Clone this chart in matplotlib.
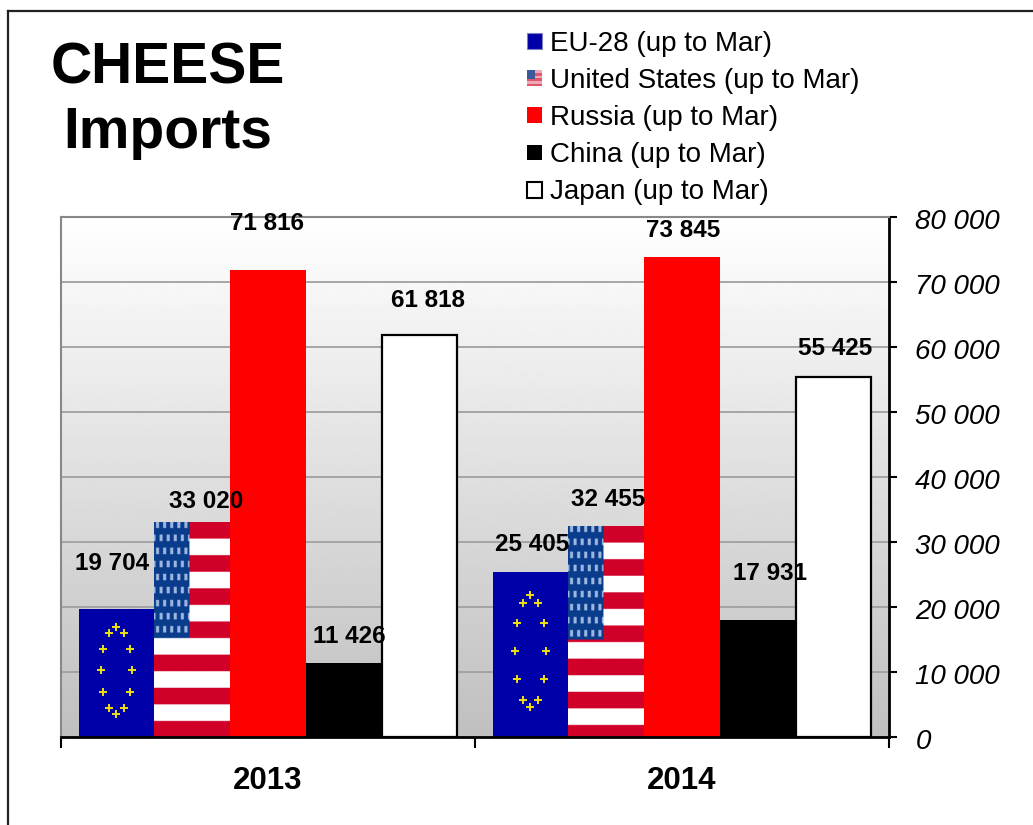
import numpy as np
import matplotlib
matplotlib.use('Agg')
import matplotlib.pyplot as plt
from matplotlib.lines import Line2D
from matplotlib.patches import Patch, Rectangle
from matplotlib.legend_handler import HandlerPatch
from matplotlib.transforms import ScaledTranslation

plt.rcParams['font.family'] = ['Liberation Sans', 'DejaVu Sans']

years = ['2013', '2014']
eu = [19704, 25405]
us = [33020, 32455]
russia = [71816, 73845]
china = [11426, 17931]
japan = [61818, 55425]
series_names = ['EU-28 (up to Mar)', 'United States (up to Mar)', 'Russia (up to Mar)',
                'China (up to Mar)', 'Japan (up to Mar)']
y_ticks = [0, 10000, 20000, 30000, 40000, 50000, 60000, 70000, 80000]

W, H = 1033, 825
BLUE = '#0000a8'
FLAG_RED = '#d00028'
FLAG_BLUE = '#0a3c8c'


def spaced(v):
    return f'{v:,}'.replace(',', ' ')


def us_flag_image(bar_h_px, bar_w_px):
    # stripes keep the same pixel height whatever the bar height is
    rows, cols = int(bar_h_px) * 2, int(bar_w_px) * 2
    img = np.ones((rows, cols, 3))
    red = np.array(matplotlib.colors.to_rgb(FLAG_RED))
    blue = np.array(matplotlib.colors.to_rgb(FLAG_BLUE))
    stripe = 33
    for r in range(rows):
        if (r // stripe) % 2 == 0:
            img[r, :] = red
    canton_h = int(rows * 0.54)
    canton_w = int(cols * 0.47)
    img[:canton_h, :canton_w] = blue
    for r in range(canton_h):
        row_no = (r + 8) // 26
        shift = 0 if row_no % 2 == 0 else 7
        for c in range(canton_w):
            if (r + 8) % 26 in range(7, 20) and (c + shift) % 14 in range(4, 10):
                img[r, c] = (0.62, 0.72, 0.88)
    return img


def draw_us_flag(ax, bar):
    x, w, h = bar.get_x(), bar.get_width(), bar.get_height()
    p0 = ax.transData.transform((x, 0))
    p1 = ax.transData.transform((x + w, h))
    img = us_flag_image(p1[1] - p0[1], p1[0] - p0[0])
    ax.imshow(img, extent=(x, x + w, 0, h), aspect='auto', zorder=2, interpolation='bilinear')


def draw_eu_flag(ax, bar):
    x, w, h = bar.get_x(), bar.get_width(), bar.get_height()
    angles = np.linspace(0, 2 * np.pi, 12, endpoint=False)
    sx = x + w / 2 + 0.21 * w * np.sin(angles)
    sy = 0.52 * h + 0.34 * h * np.cos(angles)
    ax.scatter(sx, sy, marker='+', s=26, color='#f0e010', linewidths=1.4, zorder=3)


class FlagHandler(HandlerPatch):
    def create_artists(self, legend, orig_handle, xdescent, ydescent, width, height, fontsize, trans):
        artists = []
        n = 6
        for i in range(n):
            col = '#e0566e' if i % 2 == 0 else '#f0a8b4'
            artists.append(Rectangle((-xdescent, -ydescent + height * i / n), width, height / n,
                                     facecolor=col, edgecolor='none', transform=trans))
        artists.append(Rectangle((-xdescent, -ydescent + height * 0.45), width * 0.5, height * 0.55,
                                 facecolor='#3a5a9c', edgecolor='none', transform=trans))
        return artists


fig = plt.figure(figsize=(W / 100, H / 100), dpi=100)
ax = fig.add_axes([61 / W, (H - 737) / H, 828 / W, 520 / H])
ax.set_xlim(-0.5, 1.5)
ax.set_ylim(0, 80000)

# background gradient
grad = np.linspace(1, 0.75, 256).reshape(-1, 1)
ax.imshow(grad, extent=(0, 1, 0, 1), transform=ax.transAxes, cmap='gray', vmin=0, vmax=1,
          aspect='auto', zorder=0)

x = np.arange(len(years))
bw = 0.183
offs = np.array([-2, -1, 0, 1, 2]) * bw
bars_eu = ax.bar(x + offs[0], eu, bw * 0.98, color=BLUE, zorder=2)
bars_us = ax.bar(x + offs[1], us, bw, color=FLAG_RED, zorder=2)
bars_ru = ax.bar(x + offs[2], russia, bw, color='#ff0000', zorder=2)
bars_cn = ax.bar(x + offs[3], china, bw, color='black', zorder=2)
bars_jp = ax.bar(x + offs[4], japan, bw * 0.98, color='white', edgecolor='black', linewidth=1.6, zorder=2)

for b in bars_us:
    draw_us_flag(ax, b)
for b in bars_eu:
    draw_eu_flag(ax, b)

ax.set_xlim(-0.5, 1.5)
ax.set_ylim(0, 80000)

ax.set_yticks(y_ticks)
ax.set_yticklabels([spaced(v) for v in y_ticks], fontsize=20, style='italic')
ax.yaxis.tick_right()
ax.tick_params(axis='y', length=6, width=1.5, pad=13, color='black')
ax.grid(axis='y', color='#a0a0a0', linewidth=1.3)
ax.set_axisbelow(True)
down = ScaledTranslation(0, -2 / 100, fig.dpi_scale_trans)
for lab in ax.get_yticklabels():
    lab.set_transform(lab.get_transform() + down)

ax.set_xticks([-0.5, 0.5, 1.5])
ax.set_xticklabels([])
ax.tick_params(axis='x', length=8, width=1.5, color='black')
ax.set_xticks(x, minor=True)
ax.set_xticklabels(years, minor=True, fontsize=22.5, fontweight='bold')
ax.tick_params(axis='x', which='minor', length=0, pad=21)

for name in ['left', 'top']:
    ax.spines[name].set_color('#888888')
    ax.spines[name].set_linewidth(1.5)
for name in ['right', 'bottom']:
    ax.spines[name].set_color('black')
    ax.spines[name].set_linewidth(2)

# data labels, nudged by hand like in the original
label_font = dict(fontsize=17.5, fontweight='bold', ha='center', va='center')
label_nudges = {
    'eu': [(-3, 33), (1, 20)],
    'us': [(10, 15), (1, 19)],
    'ru': [(-1, 33.5), (1, 19)],
    'cn': [(4, 19), (9, 33.5)],
    'jp': [(6, 25), (1, 20)],
}
for key, bars, vals in [('eu', bars_eu, eu), ('us', bars_us, us), ('ru', bars_ru, russia),
                        ('cn', bars_cn, china), ('jp', bars_jp, japan)]:
    for b, v, nudge in zip(bars, vals, label_nudges[key]):
        ax.annotate(spaced(v), (b.get_x() + b.get_width() / 2, v), xytext=nudge,
                    textcoords='offset points', zorder=5, annotation_clip=False, **label_font)

# title
fig.text(168 / W, 1 - 68 / H, 'CHEESE', fontsize=41, fontweight='bold', ha='center', va='center')
fig.text(168 / W, 1 - 133 / H, 'Imports', fontsize=41, fontweight='bold', ha='center', va='center')

# legend
handles = [Patch(facecolor=BLUE, edgecolor='#8080c0', linewidth=0.8),
           Patch(facecolor='#e0566e'),
           Patch(facecolor='#ff0000'),
           Patch(facecolor='black'),
           Patch(facecolor='white', edgecolor='black', linewidth=1.5)]
leg = fig.legend(handles, series_names, loc='upper left', bbox_to_anchor=(527 / W, 1 - 31 / H),
                 bbox_transform=fig.transFigure, frameon=False, fontsize=20, labelspacing=0.4,
                 handlelength=0.54, handleheight=0.5, handletextpad=0.27, borderpad=0, borderaxespad=0,
                 handler_map={handles[1]: FlagHandler()})

# outer frame of the slide
fig.add_artist(Line2D([8 / W, 8 / W], [0, 1 - 11 / H], color='#222222', linewidth=1.6))
fig.add_artist(Line2D([8 / W, 1], [1 - 11 / H, 1 - 11 / H], color='#222222', linewidth=1.6))

fig.savefig('out.png', dpi=100, facecolor='white')
